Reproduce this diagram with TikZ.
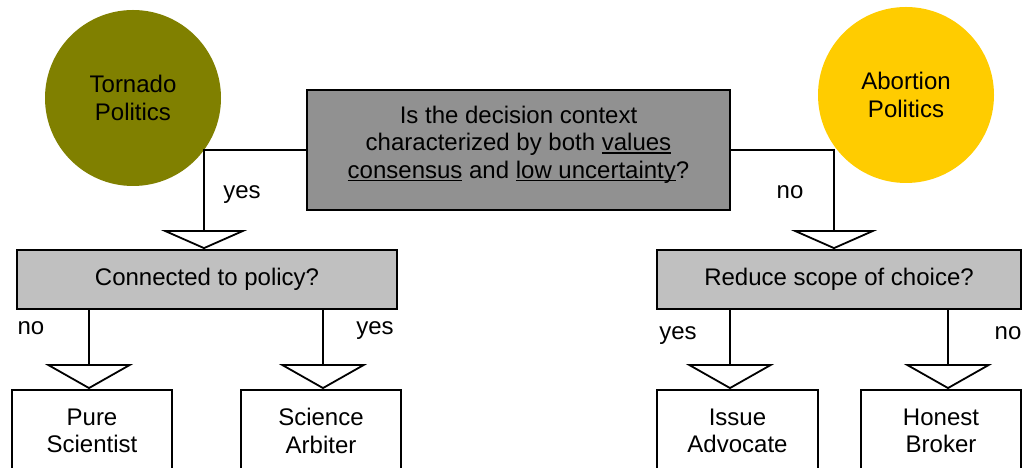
\documentclass[tikz,border=0pt]{standalone}
\usepackage{fontspec}
\setmainfont{Liberation Sans}
\usetikzlibrary{arrows.meta}

\definecolor{tornado}{RGB}{128,128,0}
\definecolor{abortion}{RGB}{255,204,0}
\definecolor{darkbox}{RGB}{145,145,145}
\definecolor{lightbox}{RGB}{192,192,192}

\newcommand{\undr}[1]{\setbox0\hbox{#1}\rlap{\rule[-3pt]{\wd0}{1.4pt}}\box0\relax}

\begin{document}
\begin{tikzpicture}[x=1pt,y=1pt,line width=1.8pt,
    font=\fontsize{24}{27.5}\selectfont]
  \useasboundingbox (0,0) rectangle (1026,468);

        \begin{scope}[every node/.style={circle, minimum size=176pt, inner sep=0pt, align=center}]
          \node[fill=tornado]  (tp) at (133,370) {Tornado\\Politics};
          \node[fill=abortion] (ap) at (906,373) {Abortion\\Politics};
        \end{scope}

        \begin{scope}[every node/.style={draw, rectangle, inner sep=0pt, align=center}]
          \node[fill=darkbox, minimum width=423pt, minimum height=120pt] (q)  at (518.5,318)
            {Is the decision context\\characterized by both \undr{values}\\\undr{consensus} and \undr{low uncertainty}?\rule[-16pt]{0pt}{16pt}};
          \node[fill=lightbox, minimum width=380pt, minimum height=59pt] (c1) at (207,188.5) {Connected to policy?};
          \node[fill=lightbox, minimum width=364pt, minimum height=59pt] (c2) at (839,188.5) {Reduce scope of choice?};
          \node[fill=white, minimum width=160pt, minimum height=82pt] (p1) at (92,37)    {Pure\\Scientist};
          \node[fill=white, minimum width=160pt, minimum height=82pt] (p2) at (321,37)   {Science\\Arbiter};
          \node[fill=white, minimum width=161pt, minimum height=82pt] (p3) at (737.5,37) {Issue\\Advocate};
          \node[fill=white, minimum width=160pt, minimum height=82pt] (p4) at (941,37)   {Honest\\Broker};
        \end{scope}

        \begin{scope}[every path/.style={draw}]
          \path[-{Triangle[open,width=86pt,length=19pt]}] (q.west) -| ([xshift=-3pt]c1.north);
          \path[-{Triangle[open,width=86pt,length=19pt]}] (q.east) -| ([xshift=-5pt]c2.north);
          \path[-{Triangle[open,width=88pt,length=25pt]}] ([xshift=-3pt]p1.north |- c1.south) -- ([xshift=-3pt]p1.north);
          \path[-{Triangle[open,width=88pt,length=25pt]}] ([xshift=2pt]p2.north |- c1.south) -- ([xshift=2pt]p2.north);
          \path[-{Triangle[open,width=88pt,length=25pt]}] ([xshift=-7.5pt]p3.north |- c2.south) -- ([xshift=-7.5pt]p3.north);
          \path[-{Triangle[open,width=88pt,length=25pt]}] ([xshift=7pt]p4.north |- c2.south) -- ([xshift=7pt]p4.north);
        \end{scope}

        \begin{scope}[every node/.style={anchor=base}]
          \node (y1) at (242,269)  {yes};
          \node (n1) at (790,269)  {no};
          \node (n2) at (31,133)   {no};
          \node (y2) at (375,133)  {yes};
          \node (y3) at (678,128)  {yes};
          \node (n3) at (1008,128) {no};
        \end{scope}

\end{tikzpicture}
\end{document}
